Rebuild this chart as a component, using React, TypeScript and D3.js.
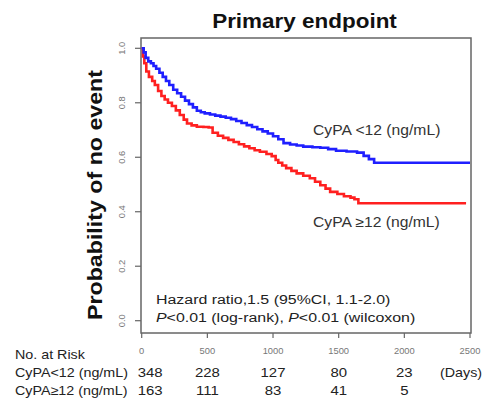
import React from "react";
import * as d3 from "d3";

// ---- data ----
const LOW_TIMES = [0, 15, 30, 50, 70, 90, 110, 135, 160, 185, 210, 240, 270, 300, 330, 360, 390, 420, 450, 480, 520, 560, 600, 640, 680, 720, 760, 800, 840, 880, 920, 960, 1000, 1040, 1080, 1130, 1180, 1230, 1300, 1360, 1420, 1480, 1560, 1640, 1690, 1730, 1770, 2500];
const LOW_SURV = [1.0, 0.985, 0.965, 0.952, 0.945, 0.935, 0.925, 0.91, 0.895, 0.88, 0.865, 0.848, 0.835, 0.822, 0.808, 0.795, 0.783, 0.771, 0.765, 0.761, 0.757, 0.753, 0.749, 0.745, 0.74, 0.733, 0.726, 0.718, 0.711, 0.703, 0.695, 0.687, 0.677, 0.666, 0.652, 0.647, 0.643, 0.639, 0.637, 0.635, 0.63, 0.624, 0.621, 0.617, 0.605, 0.593, 0.58, 0.58];

const HIGH_TIMES = [0, 10, 20, 35, 55, 80, 100, 125, 150, 175, 200, 230, 260, 290, 320, 345, 380, 420, 470, 510, 540, 580, 620, 660, 700, 740, 780, 820, 860, 900, 950, 990, 1020, 1040, 1070, 1100, 1140, 1180, 1230, 1280, 1320, 1360, 1400, 1435, 1490, 1540, 1590, 1620, 1650, 2470];
const HIGH_SURV = [1.0, 0.97, 0.945, 0.915, 0.895, 0.88, 0.865, 0.843, 0.825, 0.812, 0.8, 0.788, 0.772, 0.755, 0.738, 0.724, 0.717, 0.712, 0.711, 0.709, 0.69, 0.679, 0.671, 0.664, 0.656, 0.648, 0.64, 0.633, 0.626, 0.62, 0.612, 0.604, 0.59, 0.58, 0.57, 0.56, 0.55, 0.541, 0.532, 0.523, 0.51, 0.497, 0.485, 0.473, 0.465, 0.457, 0.452, 0.446, 0.431, 0.431];

const X_TICKS = [0, 500, 1000, 1500, 2000, 2500];
const Y_TICKS = [0, 0.2, 0.4, 0.6, 0.8, 1.0];
const RISK_TIMES = [0, 500, 1000, 1500, 2000];
const RISK_LOW = [348, 228, 127, 80, 23];
const RISK_HIGH = [163, 111, 83, 41, 5];
const GROUP_LABELS = ["CyPA<12 (ng/mL)", "CyPA\u226512 (ng/mL)"];
const CURVE_LABELS = ["CyPA <12 (ng/mL)", "CyPA \u226512 (ng/mL)"];

const FONT = "Arial, 'Liberation Sans', sans-serif";
const BLUE = "#1f1fff";
const RED = "#ff2020";

type TProps = {
  x: number; y: number; size: number; sx?: number; rot?: number;
  anchor?: "start" | "middle" | "end"; weight?: string | number; fill?: string;
  children: React.ReactNode;
};
function T({ x, y, size, sx = 1, rot = 0, anchor = "start", weight = "normal", fill = "#222", children }: TProps) {
  return (
    <text
      transform={`translate(${x},${y}) rotate(${rot}) scale(${sx},1)`}
      fontSize={size}
      fontFamily={FONT}
      fontWeight={weight}
      textAnchor={anchor}
      fill={fill}
    >
      {children}
    </text>
  );
}

export default function App() {
  const x = d3.scaleLinear().domain([0, 2500]).range([141.7, 470]);
  const y = d3.scaleLinear().domain([0, 1]).range([320.7, 48.3]);
  const box = { l: 141, r: 471, t: 38, b: 333 };

  const line = d3
    .line<[number, number]>()
    .x((d) => x(d[0]))
    .y((d) => y(d[1]))
    .curve(d3.curveStepAfter);

  const lowPts = LOW_TIMES.map((t, i) => [t, LOW_SURV[i]] as [number, number]);
  const highPts = HIGH_TIMES.map((t, i) => [t, HIGH_SURV[i]] as [number, number]);

  const tickColor = "#666";

  return (
    <svg
      width={483}
      height={398}
      style={{ position: "absolute", left: 0, top: 0, background: "#fff" }}
    >
      <rect x={0} y={0} width={483} height={398} fill="#fff" />
      {/* Title */}
      <T x={304.5} y={28} size={21} sx={1.07} anchor="middle" weight="bold" fill="#111">
        Primary endpoint
      </T>

      {/* Y label */}
      <T x={102} y={195} size={19.5} sx={1.19} rot={-90} anchor="middle" weight="bold" fill="#111">
        Probability of no event
      </T>

      {/* Box */}
      <rect x={box.l} y={box.t} width={box.r - box.l} height={box.b - box.t} fill="none" stroke={tickColor} strokeWidth={1.5} />

      {/* Y ticks */}
      {Y_TICKS.map((v) => (
        <g key={"y" + v}>
          <line x1={box.l - 6} x2={box.l} y1={y(v)} y2={y(v)} stroke={tickColor} strokeWidth={1.2} />
          <T x={125} y={y(v)} size={8.5} sx={1.1} rot={-90} anchor="middle" fill="#777">
            {v.toFixed(1)}
          </T>
        </g>
      ))}

      {/* X ticks */}
      {X_TICKS.map((v) => (
        <g key={"x" + v}>
          <line x1={x(v)} x2={x(v)} y1={box.b} y2={box.b + 5} stroke={tickColor} strokeWidth={1.2} />
          <T x={x(v)} y={354} size={8.5} sx={1.1} anchor="middle" fill="#777">
            {String(v)}
          </T>
        </g>
      ))}

      {/* Curves */}
      <path d={line(highPts) || ""} fill="none" stroke={RED} strokeWidth={2.6} />
      <path d={line(lowPts) || ""} fill="none" stroke={BLUE} strokeWidth={2.6} />

      {/* Curve labels */}
      <T x={313} y={135} size={14} sx={1.12} fill="#333">{CURVE_LABELS[0]}</T>
      <T x={313} y={227} size={14} sx={1.12} fill="#333">{CURVE_LABELS[1]}</T>

      {/* Annotation */}
      <T x={156} y={304} size={13.5} sx={1.18} fill="#222">Hazard ratio,1.5 (95%CI, 1.1-2.0)</T>
      <T x={156} y={322} size={13.5} sx={1.18} fill="#222">
        <tspan fontStyle="italic">P</tspan>
        {"<0.01 (log-rank), "}
        <tspan fontStyle="italic">P</tspan>
        {"<0.01 (wilcoxon)"}
      </T>

      {/* Risk table */}
      <T x={15} y={359} size={13} sx={1.1} fill="#222">No. at Risk</T>
      <T x={15} y={377} size={13} sx={1.1} fill="#222">{GROUP_LABELS[0]}</T>
      <T x={15} y={395} size={13} sx={1.1} fill="#222">{GROUP_LABELS[1]}</T>
      {RISK_TIMES.map((t, i) => (
        <g key={"r" + t}>
          <T x={i === 0 ? x(t) - 4 : x(t)} y={377} size={13} sx={1.15} anchor={i === 0 ? "start" : "middle"} fill="#222">
            {String(RISK_LOW[i])}
          </T>
          <T x={i === 0 ? x(t) - 4 : x(t)} y={395} size={13} sx={1.15} anchor={i === 0 ? "start" : "middle"} fill="#222">
            {String(RISK_HIGH[i])}
          </T>
        </g>
      ))}
      <T x={440} y={377} size={13} sx={1.1} fill="#222">(Days)</T>
    </svg>
  );
}
